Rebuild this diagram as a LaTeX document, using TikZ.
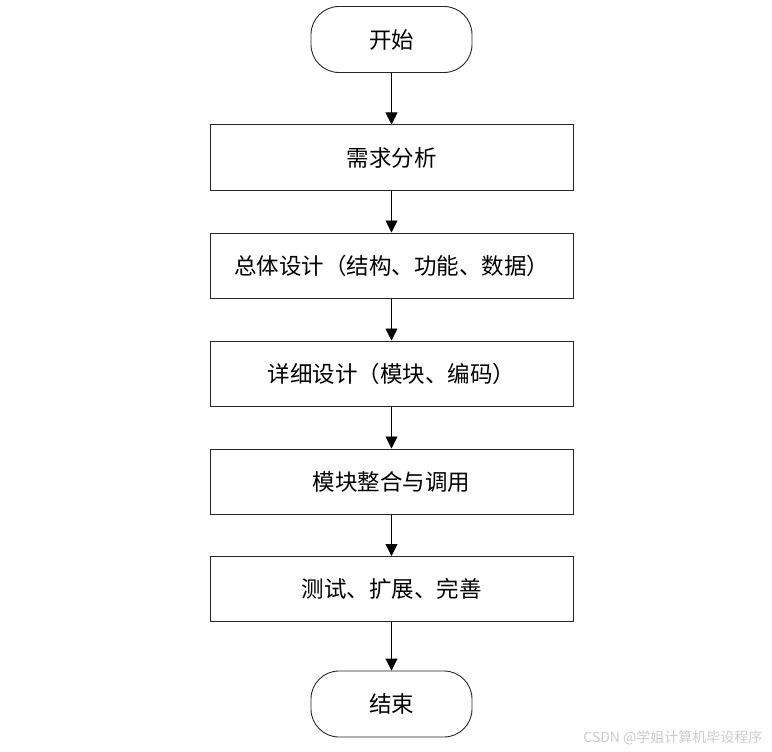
\documentclass[tikz,border=0pt]{standalone}
\usepackage{fontspec}
\newfontfamily\cjk{Noto Sans CJK SC}
\usetikzlibrary{arrows.meta}
\begin{document}
\begin{tikzpicture}[x=1pt,y=-1pt,
  every node/.style={font=\cjk\fontsize{22.5}{26}\selectfont, text=black},
  procbox/.style={draw=black!85, line width=1pt, minimum width=363pt, minimum height=65pt, inner sep=0pt},
  termbox/.style={draw=black!85, line width=0.9pt, rounded corners=28pt, minimum width=161pt, minimum height=66pt, inner sep=0pt},
  flow/.style={draw=black, line width=0.9pt, -{Triangle[length=12pt,width=12pt]}}]
\useasboundingbox (0,0) rectangle (772,752);
\node[termbox] (s) at (391.5,39.5) {开始};
\node[procbox] (a) at (391.5,157.5) {需求分析};
\node[procbox] (b) at (391.5,265.5) {总体设计（结构、功能、数据）};
\node[procbox] (c) at (391.5,373.5) {详细设计（模块、编码）};
\node[procbox] (d) at (391.5,481.5) {模块整合与调用};
\node[procbox] (e) at (391.5,589) {测试、扩展、完善};
\node[termbox] (t) at (391.5,704) {结束};
\draw[flow] (s) -- (a);
\draw[flow] (a) -- (b);
\draw[flow] (b) -- (c);
\draw[flow] (c) -- (d);
\draw[flow] (d) -- (e);
\draw[flow] (e) -- (t);
\node[anchor=east, text=black!20, font=\cjk\fontsize{14}{16}\selectfont] (w) at (766,738) {CSDN @学姐计算机毕设程序};
\end{tikzpicture}
\end{document}
